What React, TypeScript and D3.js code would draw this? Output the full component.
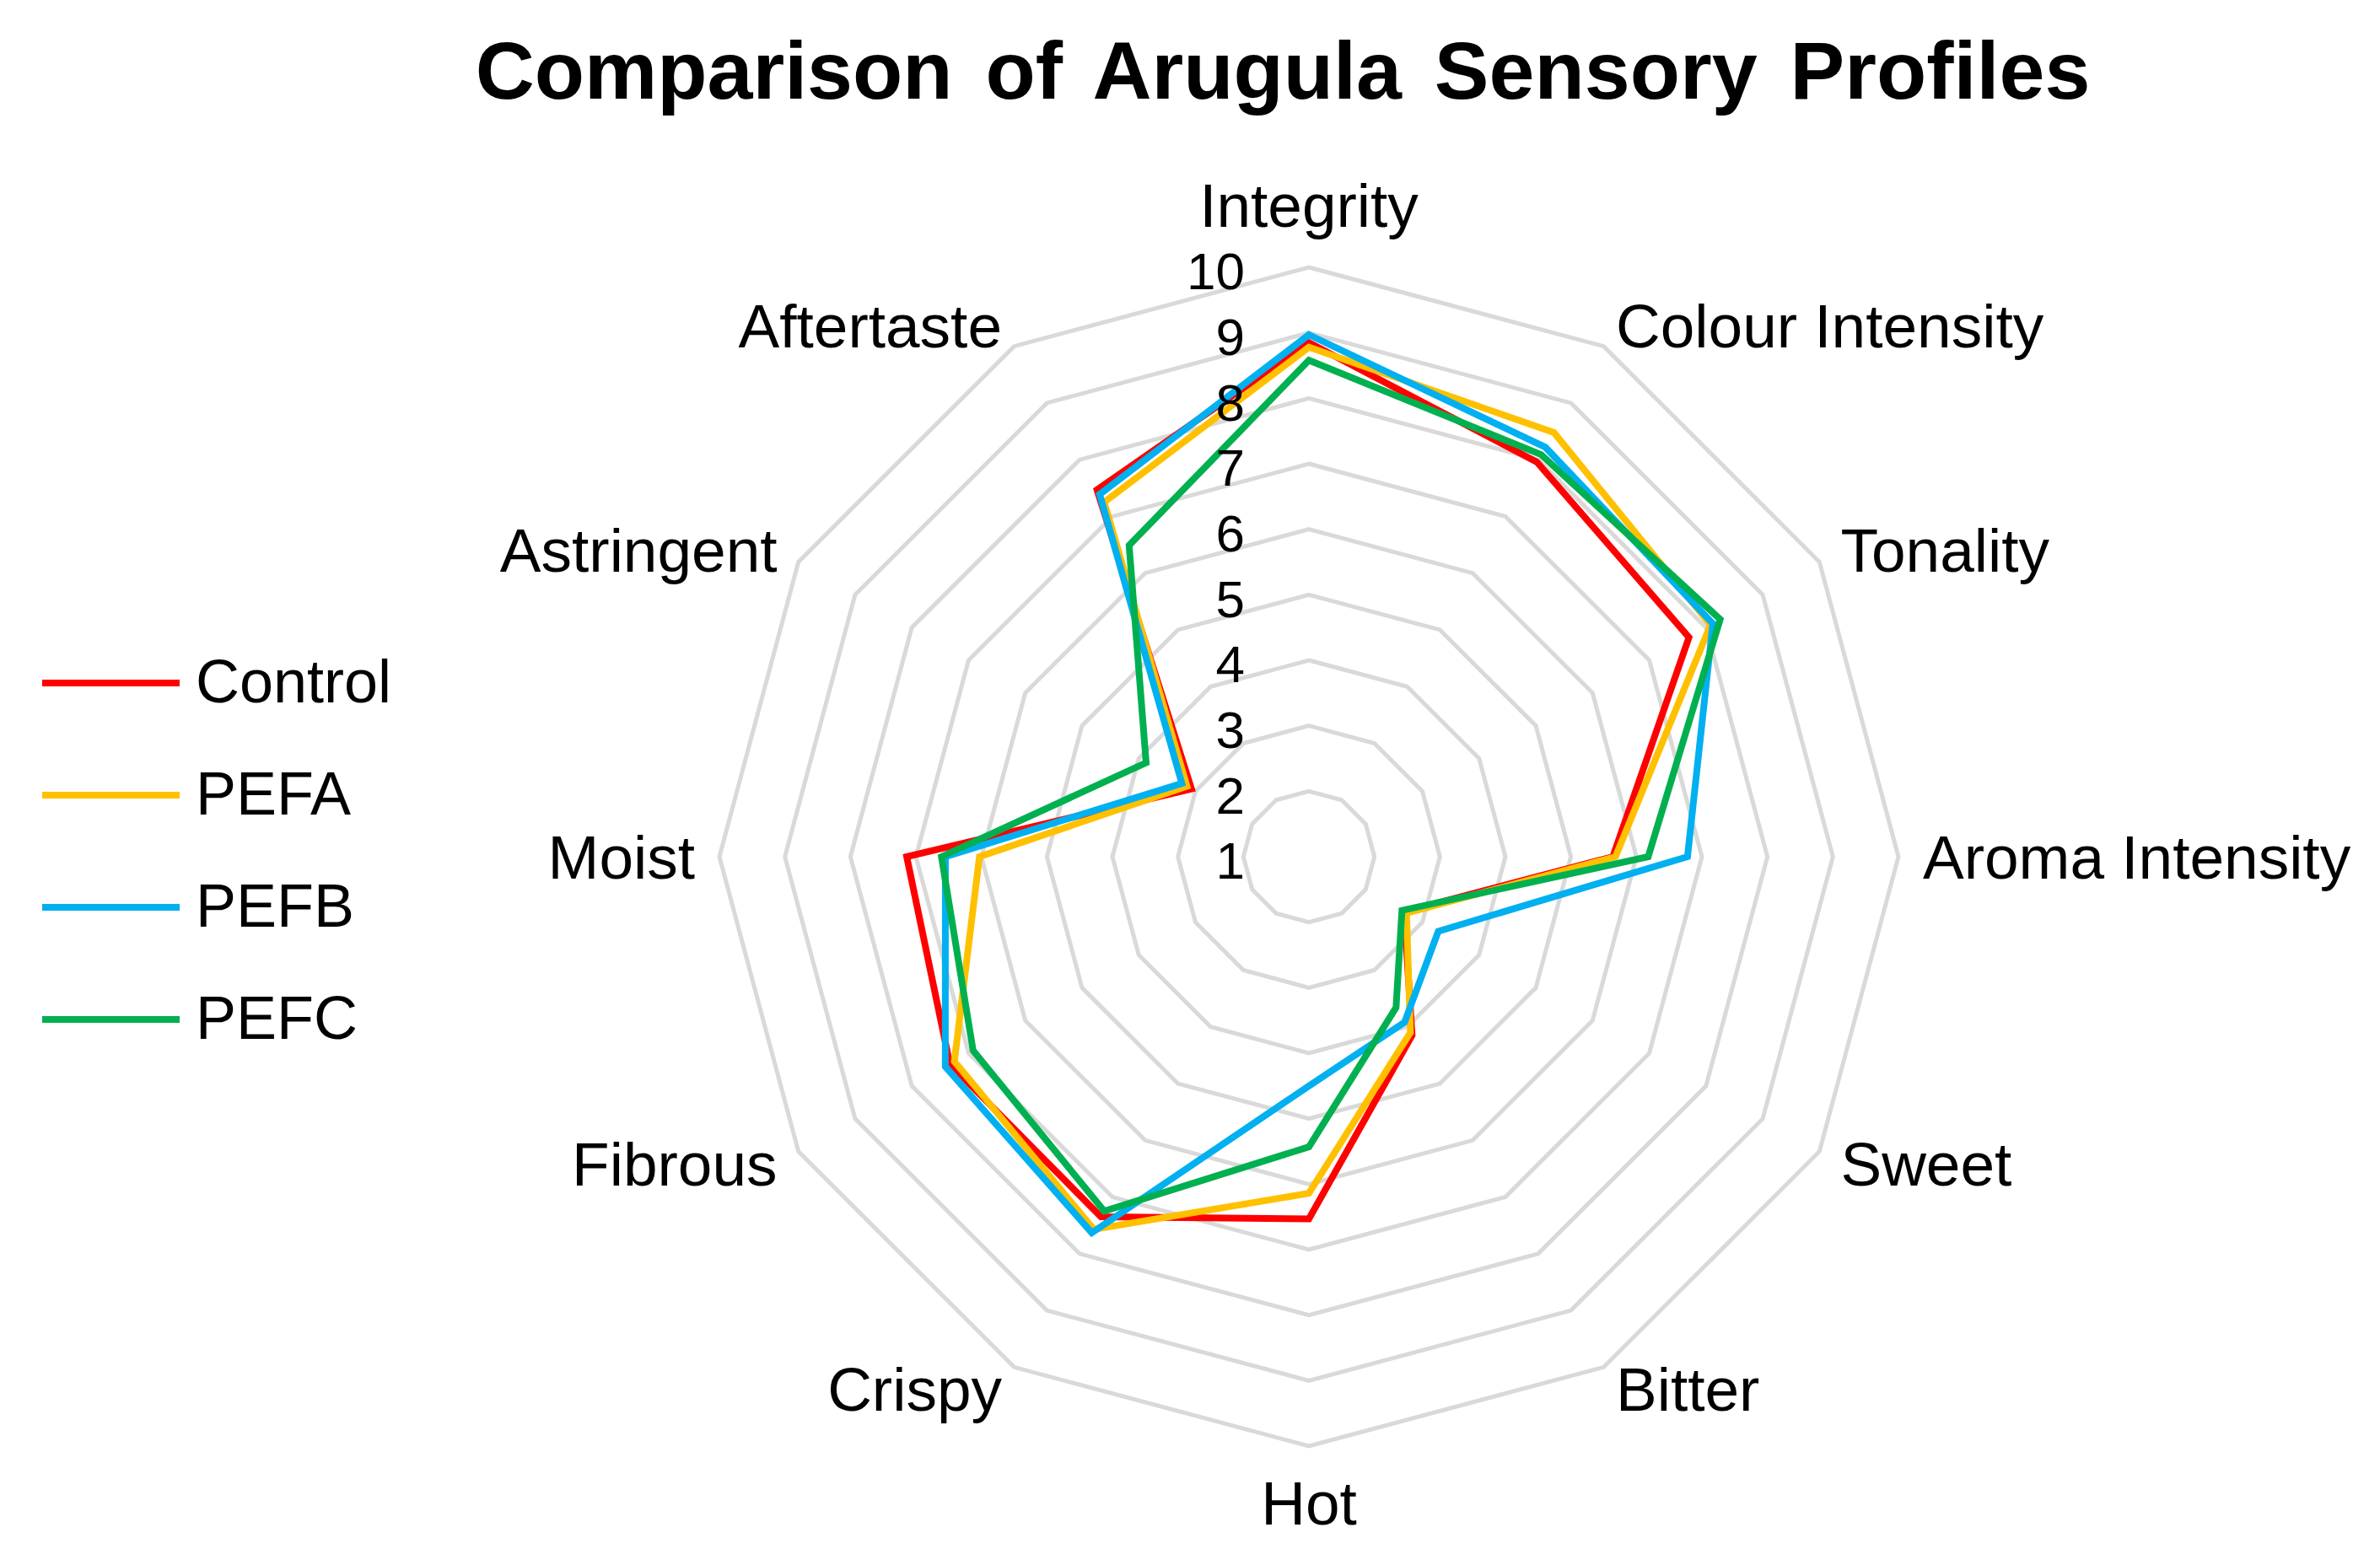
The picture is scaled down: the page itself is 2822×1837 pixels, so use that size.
import * as d3 from "d3";

const categories = [
  "Integrity", "Colour Intensity", "Tonality", "Aroma Intensity", "Sweet", "Bitter",
  "Hot", "Crispy", "Fibrous", "Moist", "Astringent", "Aftertaste"
];
const control = [8.85, 7.96, 7.7, 5.64, 2.68, 4.15, 6.53, 7.35, 7.33, 7.14, 3.07, 7.47];
const pefa = [8.78, 8.48, 8.08, 5.68, 2.72, 4.1, 6.14, 7.57, 7.25, 6.03, 3.15, 7.25];
const pefb = [8.97, 8.22, 8.12, 6.78, 3.28, 3.92, 4.5, 7.63, 7.41, 6.55, 3.24, 7.39];
const pefc = [8.58, 8.09, 8.25, 6.18, 2.64, 3.66, 5.43, 7.25, 6.92, 6.61, 3.87, 6.49];
const seriesNames = ["Control", "PEFA", "PEFB", "PEFC"];
const seriesColors = ["#FF0000", "#FFC000", "#00B0F0", "#00B050"];
const tickValues = [1, 2, 3, 4, 5, 6, 7, 8, 9, 10];

const width = 2822;
const height = 1837;
const cx = 1552;
const cy = 1016;
const font = "'Liberation Sans', Arial, sans-serif";

export default function App() {
  const series = [control, pefa, pefb, pefc];
  const r = d3.scaleLinear().domain([1, 10]).range([0, 699]);
  const step = (2 * Math.PI) / categories.length;

  const line = d3.lineRadial<number>()
    .angle((d, i) => i * step)
    .radius(d => r(d))
    .curve(d3.curveLinearClosed);

  const labelFs = 73;
  const tickFs = 62;
  const labelPos = (i: number) => {
    const a = i * step;
    const s = Math.sin(a);
    const c = Math.cos(a);
    let R = 728;
    let anchor = "middle";
    if (s > 0.01) anchor = "start";
    else if (s < -0.01) anchor = "end";
    else R = c > 0 ? 773 : 766;
    return { x: cx + R * s, y: cy - R * c, anchor };
  };

  return (
    <svg
      width={width}
      height={height}
      style={{ position: "absolute", left: 0, top: 0, background: "#fff" }}
      fontFamily={font}
    >
      <text
        x={1521}
        y={117}
        textAnchor="middle"
        fontSize={97}
        fontWeight="bold"
        wordSpacing={12}
        fill="#000"
      >
        Comparison of Arugula Sensory Profiles
      </text>

      <g transform={`translate(${cx},${cy})`}>
        {tickValues.slice(1).map(v => (
          <path
            key={v}
            d={line(categories.map(() => v)) ?? ""}
            fill="none"
            stroke="#D9D9D9"
            strokeWidth={5}
          />
        ))}
        {series.map((vals, k) => (
          <path
            key={seriesNames[k]}
            d={line(vals) ?? ""}
            fill="none"
            stroke={seriesColors[k]}
            strokeWidth={8}
            strokeLinejoin="miter"
          />
        ))}
      </g>

      {tickValues.map(v => (
        <text
          key={v}
          x={cx - 76}
          y={cy - r(v) + 4 + 0.358 * tickFs}
          textAnchor="end"
          fontSize={tickFs}
          fill="#000"
        >
          {v}
        </text>
      ))}

      {categories.map((name, i) => {
        const p = labelPos(i);
        return (
          <text
            key={name}
            x={p.x}
            y={p.y + 0.358 * labelFs}
            textAnchor={p.anchor}
            fontSize={labelFs}
            fill="#000"
          >
            {name}
          </text>
        );
      })}

      {seriesNames.map((name, k) => {
        const y = 810 + k * 133;
        return (
          <g key={name}>
            <line x1={50} x2={213} y1={y} y2={y} stroke={seriesColors[k]} strokeWidth={8} />
            <text x={232} y={y - 3 + 0.358 * 72} fontSize={72} fill="#000">
              {name}
            </text>
          </g>
        );
      })}
    </svg>
  );
}
